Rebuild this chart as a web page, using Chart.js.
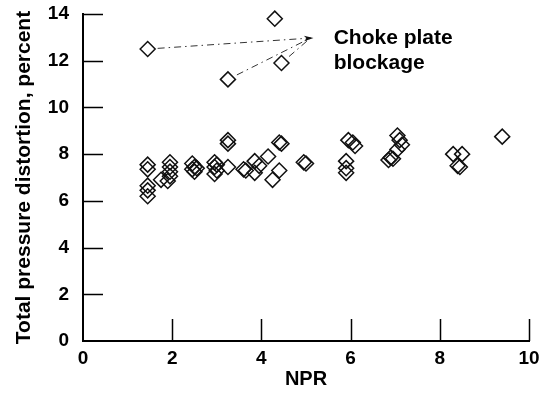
<!DOCTYPE html>
<html>
<head>
<meta charset="utf-8">
<script src="https://cdn.jsdelivr.net/npm/chart.js@4.4.1/dist/chart.umd.min.js"></script>
<style>
  html, body { margin: 0; padding: 0; background: #fff; }
</style>
</head>
<body>
<canvas id="chart" width="546" height="396"></canvas>
<script>
'use strict';

// ── data ────────────────────────────────────
const xTicks = [0, 2, 4, 6, 8, 10];
const yTicks = [0, 2, 4, 6, 8, 10, 12, 14];

const npr = [
  1.45, 1.45, 1.45, 1.45, 1.45, 1.75, 1.95, 1.95, 1.95, 1.95, 1.9,
  2.45, 2.5, 2.45, 2.5, 2.55, 2.95, 2.95, 3.0, 2.95, 3.0,
  3.25, 3.25, 3.25, 3.6, 3.65, 3.85, 3.95, 4.15, 3.85, 4.25, 4.4, 4.4, 4.45,
  4.95, 5.0, 5.95, 6.05, 6.1, 5.9, 5.9, 5.9,
  7.05, 7.1, 7.15, 7.05, 6.9, 6.95, 6.85,
  8.3, 8.5, 8.4, 8.45, 9.4
];
const distortion = [
  7.55, 7.35, 6.65, 6.45, 6.2, 6.9, 7.65, 7.45, 7.25, 7.05, 6.85,
  7.6, 7.45, 7.35, 7.25, 7.4, 7.65, 7.45, 7.3, 7.15, 7.55,
  8.6, 8.45, 7.45, 7.35, 7.3, 7.7, 7.5, 7.9, 7.2, 6.9, 7.3, 8.5, 8.45,
  7.65, 7.6, 8.6, 8.5, 8.35, 7.7, 7.4, 7.2,
  8.8, 8.6, 8.4, 8.2, 7.85, 7.8, 7.75,
  8.0, 8.0, 7.5, 7.45, 8.75
];

// choke plate blockage points
const blockNpr = [1.45, 3.25, 4.3, 4.45];
const blockDist = [12.5, 11.2, 13.8, 11.9];
const arrowFrom = [0, 1, 3];          // which blockage points get a leader line
const arrowTip = { x: 5.1, y: 12.97 };
const noteLines = ['Choke plate', 'blockage'];
const noteY = [12.97, 11.9];
const noteX = 5.62;

const FONT = "'Liberation Sans', Arial, Helvetica, sans-serif";

const toPts = (xs, ys) => xs.map((x, i) => ({ x, y: ys[i] }));

// ── inward tick marks ───────────────────────
const inwardTicks = {
  id: 'inwardTicks',
  afterDraw(chart) {
    const { ctx, chartArea: a, scales: { x, y } } = chart;
    ctx.save();
    ctx.strokeStyle = '#000';
    ctx.lineWidth = 1.5;
    ctx.beginPath();
    xTicks.slice(1).forEach((v) => {
      const px = Math.round(x.getPixelForValue(v)) + 0.5;
      ctx.moveTo(px, a.bottom);
      ctx.lineTo(px, a.bottom - 22);
    });
    yTicks.slice(1).forEach((v) => {
      const py = Math.round(y.getPixelForValue(v)) + 0.5;
      ctx.moveTo(a.left, py);
      ctx.lineTo(a.left + 20, py);
    });
    ctx.stroke();
    ctx.restore();
  },
};

// ── leader lines + note ─────────────────────
const blockageNote = {
  id: 'blockageNote',
  afterDraw(chart) {
    const { ctx, scales: { x, y } } = chart;
    const tx = x.getPixelForValue(arrowTip.x);
    const ty = y.getPixelForValue(arrowTip.y);

    ctx.save();
    ctx.strokeStyle = '#333';
    ctx.lineWidth = 1;
    ctx.setLineDash([7, 4, 1.5, 4]);
    arrowFrom.forEach((i) => {
      const px = x.getPixelForValue(blockNpr[i]);
      const py = y.getPixelForValue(blockDist[i]);
      const len = Math.hypot(tx - px, ty - py);
      const k = 10 / len;
      ctx.beginPath();
      ctx.moveTo(px + (tx - px) * k, py + (ty - py) * k);
      ctx.lineTo(tx, ty);
      ctx.stroke();
    });
    ctx.setLineDash([]);

    // arrow head
    const p0x = x.getPixelForValue(blockNpr[0]);
    const p0y = y.getPixelForValue(blockDist[0]);
    const ang = Math.atan2(ty - p0y, tx - p0x);
    ctx.fillStyle = '#111';
    ctx.beginPath();
    ctx.moveTo(tx + 3, ty);
    ctx.lineTo(tx - 7 * Math.cos(ang - 0.4), ty - 7 * Math.sin(ang - 0.4));
    ctx.lineTo(tx - 4 * Math.cos(ang), ty - 4 * Math.sin(ang));
    ctx.lineTo(tx - 7 * Math.cos(ang + 0.4), ty - 7 * Math.sin(ang + 0.4));
    ctx.closePath();
    ctx.fill();

    ctx.fillStyle = '#000';
    ctx.font = `bold 21px ${FONT}`;
    ctx.textAlign = 'left';
    ctx.textBaseline = 'middle';
    noteLines.forEach((t, i) => {
      ctx.fillText(t, x.getPixelForValue(noteX), y.getPixelForValue(noteY[i]));
    });
    ctx.restore();
  },
};

const pointStyle = {
  pointStyle: 'rectRot',
  pointRadius: 7.5,
  pointHoverRadius: 7.5,
  pointBorderWidth: 1.5,
  borderColor: '#111',
  backgroundColor: 'rgba(0,0,0,0)',
  showLine: false,
  clip: false,
};

new Chart(document.getElementById('chart'), {
  type: 'scatter',
  data: {
    datasets: [
      { label: 'Distortion', data: toPts(npr, distortion), ...pointStyle },
      { label: 'Choke plate blockage', data: toPts(blockNpr, blockDist), ...pointStyle },
    ],
  },
  options: {
    responsive: false,
    animation: false,
    devicePixelRatio: 1,
    layout: { autoPadding: false, padding: { top: 14, right: 17, left: 0, bottom: 0 } },
    plugins: { legend: { display: false }, tooltip: { enabled: false } },
    scales: {
      x: {
        type: 'linear',
        min: 0,
        max: 10,
        afterBuildTicks: (s) => { s.ticks = xTicks.map((v) => ({ value: v })); },
        afterFit: (s) => {
          s.height = 55;
          s.paddingLeft = 0;
          s.paddingRight = 0;
        },
        grid: { display: false, drawTicks: false },
        border: { display: true, color: '#000', width: 2 },
        ticks: {
          padding: 6,
          color: '#000',
          font: { family: FONT, size: 19, weight: 'bold' },
          maxRotation: 0,
        },
        title: {
          display: true,
          text: 'NPR',
          color: '#000',
          font: { family: FONT, size: 20, weight: 'bold' },
          padding: { top: 0, bottom: 5 },
        },
      },
      y: {
        type: 'linear',
        min: 0,
        max: 14,
        afterBuildTicks: (s) => { s.ticks = yTicks.map((v) => ({ value: v })); },
        afterFit: (s) => {
          s.width = 83;
          s.paddingTop = 0;
          s.paddingBottom = 0;
        },
        grid: { display: false, drawTicks: false },
        border: { display: true, color: '#000', width: 2 },
        ticks: {
          padding: 14,
          color: '#000',
          font: { family: FONT, size: 19, weight: 'bold' },
        },
        title: {
          display: true,
          text: 'Total pressure distortion, percent',
          color: '#000',
          font: { family: FONT, size: 21, weight: 'bold' },
          padding: { top: 12, bottom: 0 },
        },
      },
    },
  },
  plugins: [inwardTicks, blockageNote],
});
</script>
</body>
</html>
